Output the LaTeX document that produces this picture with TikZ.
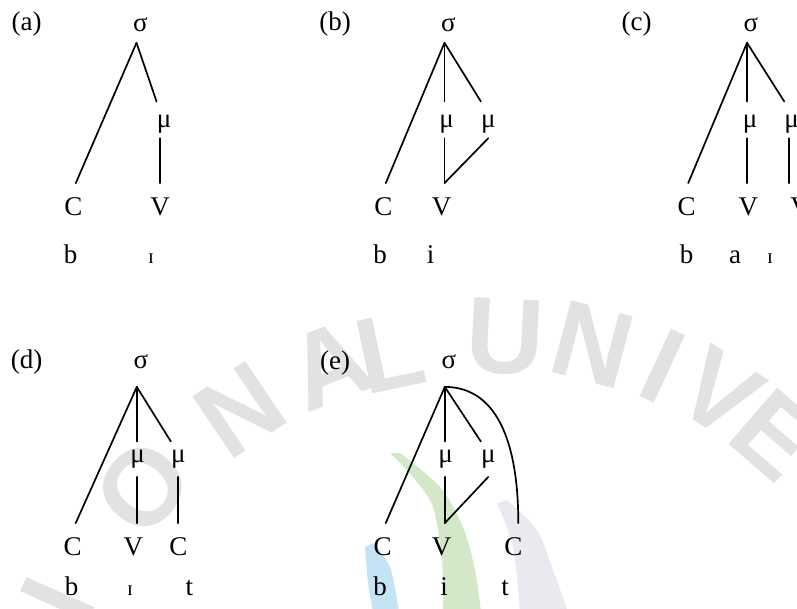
\documentclass[tikz,border=0pt]{standalone}
\usepackage{fontspec}
\setmainfont{Liberation Serif}
\newfontfamily\markfont{Liberation Sans}
\definecolor{wmgray}{RGB}{226,226,226}
\definecolor{leafgreen}{RGB}{210,232,200}
\definecolor{skyblue}{RGB}{196,228,246}
\definecolor{mistgray}{RGB}{232,234,239}
\begin{document}
\begin{tikzpicture}[x=1pt,y=-1pt,
  txt/.style={anchor=base,inner sep=0pt,font=\fontsize{27}{32}\selectfont},
  tag/.style={txt},
  sigtop/.style={txt,text depth=11.6pt},
  sigbot/.style={txt,text depth=18.7pt},
  mutop/.style={txt,text height=25.3pt,text depth=11pt},
  mubot/.style={txt,text height=20.3pt,text depth=14.7pt},
  seg/.style={txt,text height=31.7pt},
  snd/.style={txt},
  ipa/.style={txt,font=\fontsize{21}{25}\selectfont},
  branch/.style={line width=1.7pt,line cap=round},
  wmletter/.style={inner sep=0pt,anchor=center,text=wmgray,
    font=\markfont\bfseries\fontsize{108}{108}\selectfont}]
\useasboundingbox (0,0) rectangle (797,608);
\clip (0,0) rectangle (797,608);

% background emblem strokes
\fill[leafgreen] plot[smooth] coordinates {(390,453) (413,477) (433,507) (442,560) (443,612)}
  -- plot[smooth] coordinates {(481,612) (475,570) (463,527) (440,487) (400,453)} -- cycle;
\fill[mistgray] plot[smooth] coordinates {(497,503) (513,547) (520,612)}
  -- plot[smooth] coordinates {(568,612) (553,570) (537,530) (507,500)} -- cycle;
\fill[skyblue] plot[smooth] coordinates {(365,547) (368,583) (373,612)}
  -- plot[smooth] coordinates {(399,612) (390,567) (373,543)} -- cycle;

% background lettering on an arc
\node[wmletter,rotate=66]  (w1)  at (58,600)  {I};
\node[wmletter,rotate=51]  (w2)  at (143,487) {O};
\node[wmletter,rotate=34]  (w3)  at (240,410) {N};
\node[wmletter,rotate=21]  (w4)  at (330,365) {A};
\node[wmletter,rotate=12]  (w5)  at (390,352) {L};
\node[wmletter,rotate=-3]  (w6)  at (505,337) {U};
\node[wmletter,rotate=-15] (w7)  at (593,345) {N};
\node[wmletter,rotate=-25] (w8)  at (663,366) {I};
\node[wmletter,rotate=-33] (w9)  at (720,393) {V};
\node[wmletter,rotate=-41] (w10) at (775,435) {E};

% (a)
\node[tag] (a-lab) at (26.7,30.5) {(a)};
\node[sigtop] (a-s) at (140.5,31) {σ};
\coordinate (a-o) at ([xshift=-4pt]a-s.south);
\node[mutop] (a-m) at (164,127) {μ};
\node[seg] (a-C) at (73.3,215) {C};
\node[seg] (a-V) at (160,215) {V};
\node[snd] (a-b) at (70.7,263) {b};
\node[ipa] (a-I) at (151,263) {ɪ};
\draw[branch] (a-o) -- ([xshift=2.5pt]a-C.north);
\draw[branch] (a-o) -- (a-m.north west);
\draw[branch] (a-V.north |- a-m.south) -- (a-V.north);

% (b)
\node[tag] (b-lab) at (335,30.5) {(b)};
\node[sigtop] (b-s) at (448.5,31) {σ};
\coordinate (b-o) at ([xshift=-4pt]b-s.south);
\node[mutop] (b-m1) at (446.7,127) {μ};
\node[mutop] (b-m2) at (488.3,127) {μ};
\node[seg] (b-C) at (383.3,215) {C};
\node[seg] (b-V) at (441.7,215) {V};
\node[snd] (b-b) at (380,263) {b};
\node[snd] (b-i) at (430.7,263) {i};
\draw[branch] (b-o) -- ([xshift=2.5pt]b-C.north);
\draw[branch] (b-o) -- (b-o |- b-m1.north);
\draw[branch] (b-o) -- (b-m2.north west);
\draw[branch] (b-o |- b-m1.south) -- (b-o |- b-V.north);
\draw[branch] (b-m2.south) -- (b-o |- b-V.north);

% (c)
\node[tag] (c-lab) at (636.7,30.5) {(c)};
\node[sigtop] (c-s) at (751,31) {σ};
\coordinate (c-o) at ([xshift=-4pt]c-s.south);
\node[mutop] (c-m1) at (750,127) {μ};
\node[mutop] (c-m2) at (791.7,127) {μ};
\node[seg] (c-C) at (686.7,215) {C};
\node[seg] (c-V1) at (748.3,215) {V};
\node[seg] (c-V2) at (800,215) {V};
\node[snd] (c-b) at (686.7,263) {b};
\node[snd] (c-a) at (735,263) {a};
\node[ipa] (c-I) at (770,263) {ɪ};
\coordinate (c-m2b) at ([xshift=-3pt]c-m2.south);
\draw[branch] (c-o) -- ([xshift=1.5pt]c-C.north);
\draw[branch] (c-o) -- (c-o |- c-m1.north);
\draw[branch] (c-o) -- (c-m2.north west);
\draw[branch] (c-o |- c-m1.south) -- (c-o |- c-V1.north);
\draw[branch] (c-m2b) -- (c-m2b |- c-V2.north);

% (d)
\node[tag] (d-lab) at (26.7,368.5) {(d)};
\node[sigbot] (d-s) at (140.8,368) {σ};
\coordinate (d-o) at ([xshift=-4pt]d-s.south);
\node[mubot] (d-m1) at (137.7,462) {μ};
\node[mubot] (d-m2) at (178.3,462) {μ};
\node[seg] (d-C) at (72.7,555) {C};
\node[seg] (d-V) at (133.3,555) {V};
\node[seg] (d-C2) at (178.3,555) {C};
\node[snd] (d-b) at (71.7,595) {b};
\node[ipa] (d-I) at (130,595) {ɪ};
\node[snd] (d-t) at (189.3,595) {t};
\draw[branch] (d-o) -- ([xshift=3pt]d-C.north);
\draw[branch] (d-o) -- (d-o |- d-m1.north);
\draw[branch] (d-o) -- (d-m2.north west);
\draw[branch] (d-o |- d-m1.south) -- (d-o |- d-V.north);
\draw[branch] (d-m2.south) -- (d-m2.south |- d-C2.north);

% (e)
\node[tag] (e-lab) at (335,369) {(e)};
\node[sigbot] (e-s) at (448.8,368) {σ};
\coordinate (e-o) at ([xshift=-4pt]e-s.south);
\node[mubot] (e-m1) at (445.7,462) {μ};
\node[mubot] (e-m2) at (488.3,462) {μ};
\node[seg] (e-C) at (382.7,555) {C};
\node[seg] (e-V) at (441.7,555) {V};
\node[seg] (e-C2) at (513.3,555) {C};
\node[snd] (e-b) at (380,595) {b};
\node[snd] (e-i) at (444,595) {i};
\node[snd] (e-t) at (505,595) {t};
\draw[branch] (e-o) -- ([xshift=3pt]e-C.north);
\draw[branch] (e-o) -- (e-o |- e-m1.north);
\draw[branch] (e-o) -- (e-m2.north west);
\draw[branch] (e-o |- e-m1.south) -- (e-o |- e-V.north);
\draw[branch] (e-m2.south) -- (e-o |- e-V.north);
\draw[branch] (e-o) .. controls +(50,0) and +(0,-85) .. ([xshift=5pt]e-C2.north);
\end{tikzpicture}
\end{document}
